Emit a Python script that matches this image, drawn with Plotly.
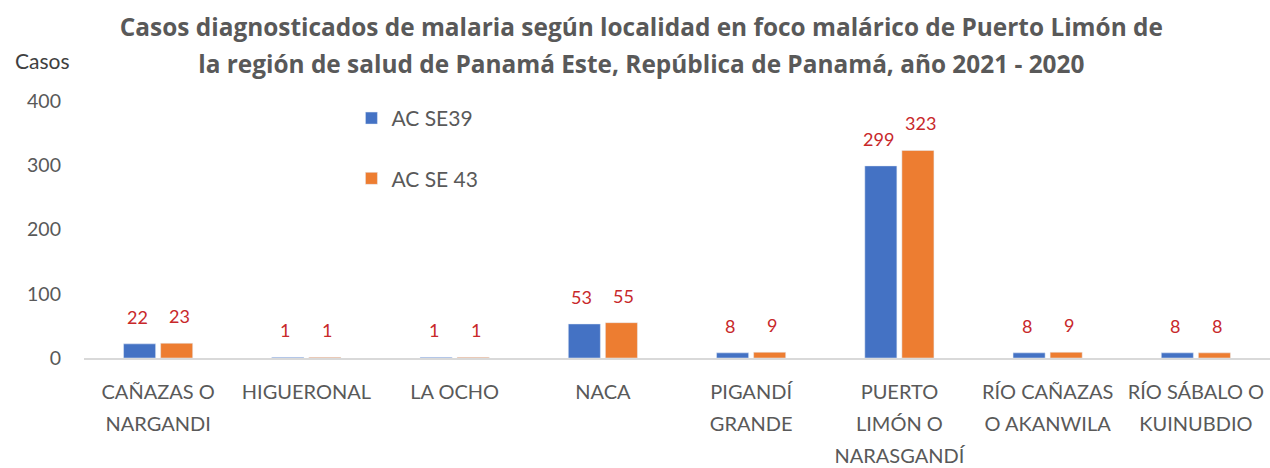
import plotly.graph_objects as go

categories = [
    "CAÑAZAS O<br>NARGANDI",
    "HIGUERONAL",
    "LA OCHO",
    "NACA",
    "PIGANDÍ<br>GRANDE",
    "PUERTO<br>LIMÓN O<br>NARASGANDÍ",
    "RÍO CAÑAZAS<br>O AKANWILA",
    "RÍO SÁBALO O<br>KUINUBDIO",
]
series_names = ["AC SE39", "AC SE 43"]
se39 = [22, 1, 1, 53, 8, 299, 8, 8]
se43 = [23, 1, 1, 55, 9, 323, 9, 8]
y_ticks = [0, 100, 200, 300, 400]

colors = ["#4472C4", "#ED7D31"]
label_color = "#C8282A"
grey = "#595959"
FONT = "Lato"
TITLE_FONT = "Open Sans"

cat_ids = list(range(len(categories)))
span = "<span style='font-size:20px'>"
tick_text = [span + c.replace("<br>", "</span><br>" + span) + "</span>" for c in categories]

fig = go.Figure()
for name, vals, col in zip(series_names, [se39, se43], colors):
    fig.add_trace(go.Bar(
        x=cat_ids, y=vals, name=name, marker_color=col,
        legendgroup=name, hoverinfo="y",
    ))

annotations = []
for vals, shift in [(se39, -21), (se43, 21)]:
    for i, v in zip(cat_ids, vals):
        annotations.append(dict(
            x=i, y=v, xref="x", yref="y", text=str(v), showarrow=False,
            xshift=shift, yshift=27, yanchor="middle",
            font=dict(family=FONT, size=18, color=label_color),
        ))
annotations.append(dict(
    x=-0.0599, y=1.156, xref="paper", yref="paper", text="Casos", showarrow=False,
    xanchor="left", yanchor="middle", font=dict(family=FONT, size=21, color="#404040"),
))

title_lines = [
    "Casos diagnosticados de malaria según localidad en foco malárico de Puerto Limón de",
    "la región de salud de Panamá Este, República de Panamá, año 2021 - 2020",
]
title_text = "<br>".join("<span style='font-size:24.4px'><b>%s</b></span>" % t for t in title_lines)

fig.update_layout(
    width=1270, height=468,
    margin=dict(l=84, r=0, t=101, b=110, autoexpand=False),
    paper_bgcolor="white", plot_bgcolor="white",
    font=dict(family=FONT, color=grey),
    title=dict(text=title_text, x=0.505, xanchor="center", y=0.924, yanchor="top",
               font=dict(family=TITLE_FONT, size=28.5, color=grey)),
    barmode="group", bargap=0.5, bargroupgap=0.135,
    showlegend=True,
    legend=dict(x=0.2255, y=1.012, xanchor="left", yanchor="top",
                font=dict(family=FONT, size=21, color=grey),
                tracegroupgap=30, itemwidth=30, bgcolor="rgba(0,0,0,0)"),
    annotations=annotations,
)
fig.update_xaxes(
    tickmode="array", tickvals=cat_ids, ticktext=tick_text,
    range=[-0.5, len(categories) - 0.5], automargin=False,
    showline=True, linecolor="#D9D9D9", linewidth=1.5, showgrid=False,
    ticks="", tickfont=dict(family=FONT, size=24.5, color=grey),
    ticklabelstandoff=10, zeroline=False,
)
fig.update_yaxes(
    range=[0, 400], tickvals=y_ticks, showgrid=False, zeroline=False,
    showline=False, ticks="", ticklabelstandoff=22, automargin=False,
    tickfont=dict(family=FONT, size=19.5, color=grey),
)

fig.write_html("out.html", config={"displayModeBar": False},
               post_script="document.body.style.margin='0';")
